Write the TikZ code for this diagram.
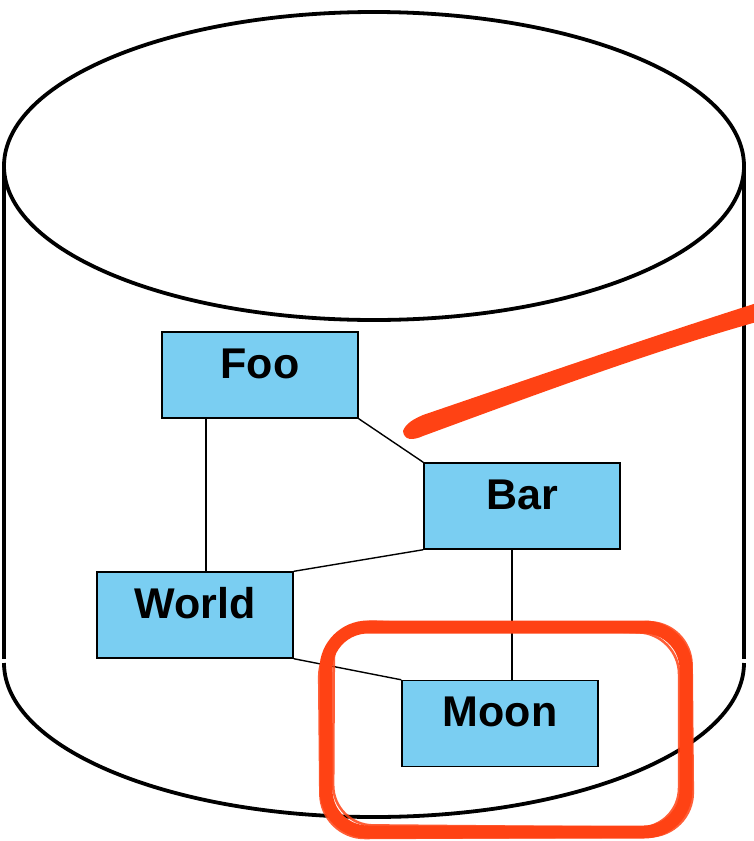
\documentclass[tikz,border=0pt]{standalone}
\usepackage{fontspec}
\setmainfont{Liberation Sans}
\definecolor{boxblue}{RGB}{122,206,242}
\definecolor{marker}{RGB}{255,66,20}
\begin{document}
\begin{tikzpicture}[x=1pt,y=-1pt,
  cyl/.style={line width=3.8pt},
  box/.style={draw=black, line width=1.4pt, fill=boxblue, rectangle,
    minimum width=196pt, minimum height=86pt, inner xsep=4pt, inner ysep=16pt,
    text height=30pt, text depth=24pt,
    font=\fontsize{43}{47}\selectfont\bfseries},
  edge/.style={line width=1.4pt},
  pen/.style={draw=marker, line cap=round, line join=round}]
\useasboundingbox (0,0) rectangle (753,841);
% cylinder
\draw[cyl] (374,166) ellipse [x radius=370pt, y radius=154pt];
\draw[cyl] (4,166) -- (4,659);
\draw[cyl] (744,166) -- (744,659);
\draw[cyl] (4,663) arc[start angle=180, end angle=360, x radius=370pt, y radius=154pt];
% nodes
\node[box] (Foo) at (260,375) {Foo};
\node[box] (Bar) at (522,506) {Bar};
\node[box] (World) at (195,615) {World};
\node[box] (Moon) at (500,723.5) {Moon};
% connectors
\draw[edge] ([xshift=-54pt]Foo.south) -- ([xshift=-54pt]Foo.south |- World.north);
\draw[edge] (Foo.south east) -- (Bar.north west);
\draw[edge] (World.north east) -- (Bar.south west);
\draw[edge] (World.south east) -- (Moon.north west);
\draw[edge] ([xshift=-10pt]Bar.south) -- ([xshift=-10pt]Bar.south |- Moon.north);
% red marker stroke
\fill[marker] (403,431) .. controls (406,423) and (414,419) .. (423,415)
  .. controls (540,375) and (650,337) .. (760,302)
  -- (760,321)
  .. controls (650,352) and (540,393) .. (423,436)
  .. controls (412,441) and (404,440) .. cycle;
% red marker loop
\draw[pen, line width=13pt] (326,627) [rounded corners=42pt] -- (686,627) -- (686,832) -- (326,832) -- cycle;
\draw[pen, line width=3pt, opacity=0.85] (319,633) [rounded corners=44pt] -- (691,621) -- (693,836) -- (321,838) -- cycle;
\draw[pen, line width=2.5pt, opacity=0.85] (334,620) [rounded corners=40pt] -- (679,634) -- (679,828) -- (333,825) -- cycle;
\end{tikzpicture}
\end{document}
